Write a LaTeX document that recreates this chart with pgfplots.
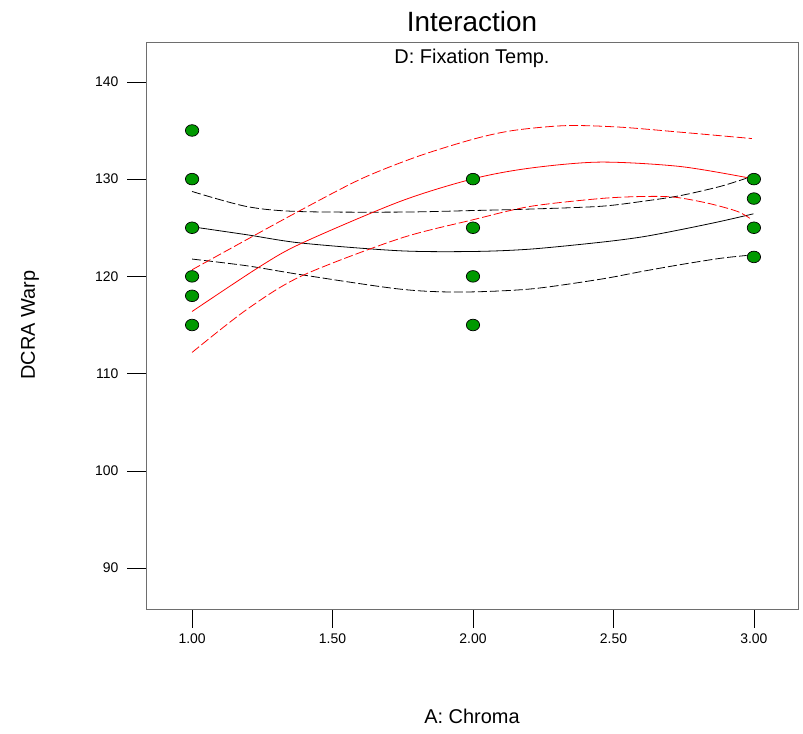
\documentclass[border=0pt]{standalone}
\usepackage{pgfplots}
\pgfplotsset{compat=1.18}
\usepackage{fontspec}
\setmainfont{Liberation Sans}
\definecolor{ptgreen}{RGB}{0,153,0}
\definecolor{boxgray}{RGB}{110,110,110}

\begin{document}
\begin{tikzpicture}[x=1bp,y=1bp]
\path[use as bounding box] (0,0) rectangle (803,734);
\begin{axis}[
    at={(146bp,125bp)}, anchor=south west,
    scale only axis,
    width=652bp, height=567bp,
    xmin=0.836, xmax=3.157,
    ymin=85.8, ymax=144.1,
    xtick={1,1.5,2,2.5,3},
    ytick={90,100,110,120,130,140},
    xticklabel style={/pgf/number format/.cd,fixed,fixed zerofill,precision=2},
    /pgf/number format/assume math mode=true,
    tick label style={font=\fontsize{14}{16}\selectfont},
    tick align=outside,
    major tick length=19bp,
    xtick pos=bottom, ytick pos=left,
    xticklabel shift=2bp, yticklabel shift=5bp,
    axis line style={boxgray, line width=0.9pt},
    tick style={black, line width=0.7pt},
    clip=false,
]
% fitted curves
\addplot[black, line width=0.8pt, smooth] coordinates {
 (1.0,125.1)(1.195,124.28)(1.391,123.42)(1.740,122.63)(2.0,122.56)(2.203,122.8)(2.452,123.5)(2.600,124.05)(2.737,124.79)(2.879,125.64)(2.998,126.43)};
\addplot[black, line width=0.8pt, smooth, dash pattern=on 9bp off 3bp] coordinates {
 (1.0,128.73)(1.195,127.18)(1.378,126.67)(1.740,126.61)(2.0,126.77)(2.203,126.92)(2.452,127.2)(2.600,127.7)(2.737,128.3)(2.879,129.24)(2.974,130.1)};
\addplot[black, line width=0.8pt, smooth, dash pattern=on 9bp off 3bp] coordinates {
 (1.0,121.78)(1.195,121.09)(1.391,120.16)(1.740,118.69)(1.954,118.39)(2.203,118.7)(2.452,119.7)(2.600,120.5)(2.737,121.2)(2.879,121.85)(2.974,122.15)};
\addplot[red, line width=0.8pt, smooth] coordinates {
 (1.0,116.39)(1.242,121.02)(1.391,123.42)(1.740,127.70)(2.0,130.03)(2.203,131.13)(2.452,131.75)(2.737,131.30)(2.986,130.10)};
\addplot[red, line width=0.8pt, smooth, dash pattern=on 9bp off 3bp] coordinates {
 (1.0,120.68)(1.189,123.69)(1.378,126.67)(1.600,130.0)(1.800,132.3)(2.0,134.1)(2.143,135.0)(2.33,135.5)(2.52,135.35)(2.737,134.83)(2.993,134.17)};
\addplot[red, line width=0.8pt, smooth, dash pattern=on 9bp off 3bp] coordinates {
 (1.0,112.18)(1.195,116.6)(1.391,120.06)(1.740,123.9)(2.0,125.82)(2.203,127.19)(2.452,128.0)(2.60,128.21)(2.715,128.15)(2.835,127.53)(2.942,126.67)(2.993,125.82)};
% design points
\addplot[only marks, mark=*, mark size=5.8bp,
    mark options={fill=ptgreen, draw=black, line width=0.7pt, xscale=1.15}] coordinates {
 (1,135)(1,130)(1,125)(1,120)(1,118)(1,115)
 (2,130)(2,125)(2,120)(2,115)
 (3,130)(3,128)(3,125)(3,122)};
\end{axis}
\node at (472,712) {\fontsize{28}{32}\selectfont Interaction};
\node at (472,676) {\fontsize{20}{24}\selectfont D: Fixation Temp.};
\node[rotate=90] at (30,409) {\fontsize{20}{24}\selectfont DCRA Warp};
\node at (472,18) {\fontsize{20}{24}\selectfont A: Chroma};
\end{tikzpicture}
\end{document}
